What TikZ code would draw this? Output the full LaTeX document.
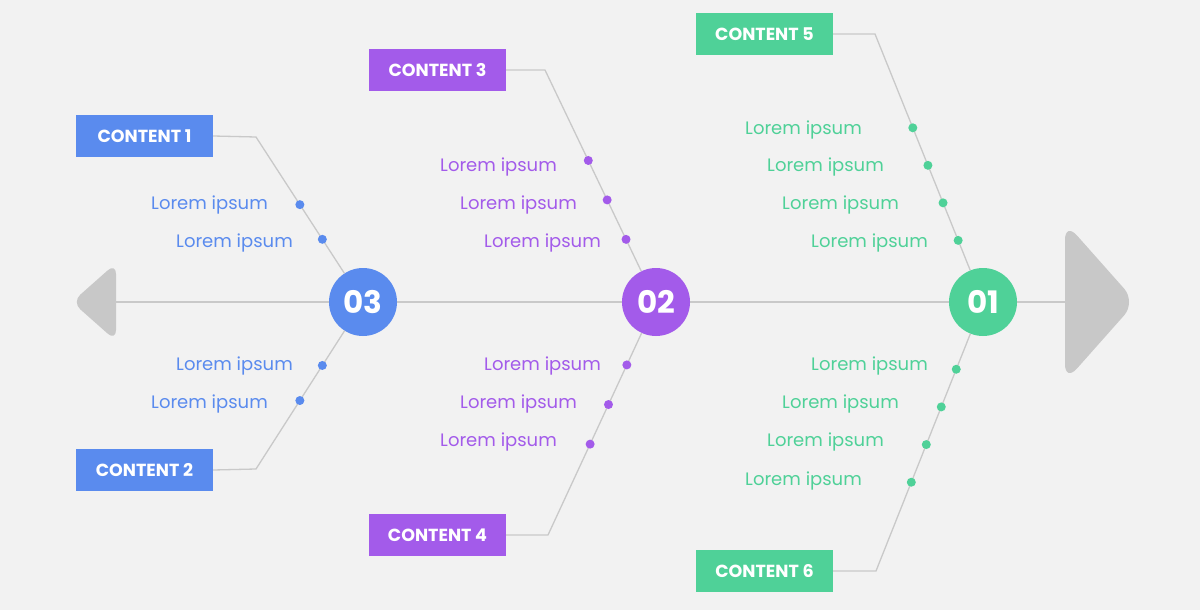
\documentclass[tikz,border=0pt]{standalone}
\usepackage{fontspec}
\setmainfont{Poppins}
\usetikzlibrary{calc,positioning}
\definecolor{bgc}{HTML}{F2F2F2}
\definecolor{linec}{HTML}{C9C9C9}
\definecolor{headc}{HTML}{C8C8C8}
\definecolor{cblue}{HTML}{5A8BEE}
\definecolor{cpurple}{HTML}{A35BEA}
\definecolor{cgreen}{HTML}{4FD198}

\begin{document}
\begin{tikzpicture}[x=1pt,y=-1pt,
  bone/.style={draw=linec, line width=1.3pt},
  box/.style={fill=#1, text=white, minimum width=137pt, minimum height=42pt,
    inner sep=0pt, font=\bfseries\fontsize{17.5}{17.5}\selectfont},
  num/.style={circle, fill=#1, text=white, minimum size=68pt, inner sep=0pt,
    font=\bfseries\fontsize{31}{31}\selectfont},
  dot/.style={circle, fill=#1, minimum size=9pt, inner sep=0pt},
  lbl/.style={text=#1, anchor=east, inner sep=0pt, font=\fontsize{18}{18}\selectfont}]
\useasboundingbox (0,0) rectangle (1200,610);
\fill[bgc] (0,0) rectangle (1200,610);

% tail and head
\fill[headc, rounded corners=11pt] (116,263) -- (72,302) -- (116,341) -- cycle;
\fill[headc, rounded corners=18pt] (1065,222) -- (1136,302) -- (1065,382) -- cycle;
\coordinate (tail) at (115,302);
\coordinate (head) at (1065,302);
\draw[bone] (tail) -- (head);

% numbered circles
\node[num=cblue] (c3) at (363,302) {03};
\node[num=cpurple] (c2) at (656,302) {02};
\node[num=cgreen] (c1) at (983,302) {01};

% boxes
\node[box=cblue] (b1) at (144.5,136) {CONTENT 1};
\node[box=cblue] (b2) at (144.5,470) {CONTENT 2};
\node[box=cpurple] (b3) at (437.5,70) {CONTENT 3};
\node[box=cpurple] (b4) at (437.5,535) {CONTENT 4};
\node[box=cgreen] (b5) at (764.5,34) {CONTENT 5};
\node[box=cgreen] (b6) at (764.5,571) {CONTENT 6};

% elbows
\coordinate (k1) at (256,137);
\coordinate (k2) at (256,469);
\coordinate (k3) at (545,70);
\coordinate (k4) at (548,535);
\coordinate (k5) at (875,34);
\coordinate (k6) at (876,571);

% bones
\draw[bone] (b1.east) -- (k1) -- (c3);
\draw[bone] (b2.east) -- (k2) -- (c3);
\draw[bone] (b3.east) -- (k3) -- (c2);
\draw[bone] (b4.east) -- (k4) -- (c2);
\draw[bone] (b5.east) -- (k5) -- (c1);
\draw[bone] (b6.east) -- (k6) -- (c1);

% dots
\foreach \t [count=\i] in {0.41,0.62}{
  \node[dot=cblue] (d1\i) at ($(k1)!\t!(c3)$) {};
  \node[dot=cblue] (d2\i) at ($(k2)!\t!(c3)$) {};
}
\foreach \t [count=\i] in {0.39,0.56,0.73}{
  \node[dot=cpurple] (d3\i) at ($(k3)!\t!(c2)$) {};
  \node[dot=cpurple] (d4\i) at ($(k4)!\t!(c2)$) {};
}
\foreach \t [count=\i] in {0.35,0.49,0.63,0.77}
  \node[dot=cgreen] (d5\i) at ($(k5)!\t!(c1)$) {};
\foreach \t [count=\i] in {0.33,0.47,0.61,0.75}
  \node[dot=cgreen] (d6\i) at ($(k6)!\t!(c1)$) {};

% labels
\foreach \x/\y [count=\i] in {268/205,293/243,293/366,268/404}
  \node[lbl=cblue] (l3\i) at (\x,\y) {Lorem ipsum};
\foreach \x/\y [count=\i] in {557/167,577/205,601/243,601/366,577/404,557/442}
  \node[lbl=cpurple] (l2\i) at (\x,\y) {Lorem ipsum};
\foreach \x/\y [count=\i] in {862/130,884/167,899/205,928/243,928/366,899/404,884/442,862/481}
  \node[lbl=cgreen] (l1\i) at (\x,\y) {Lorem ipsum};
\end{tikzpicture}
\end{document}
